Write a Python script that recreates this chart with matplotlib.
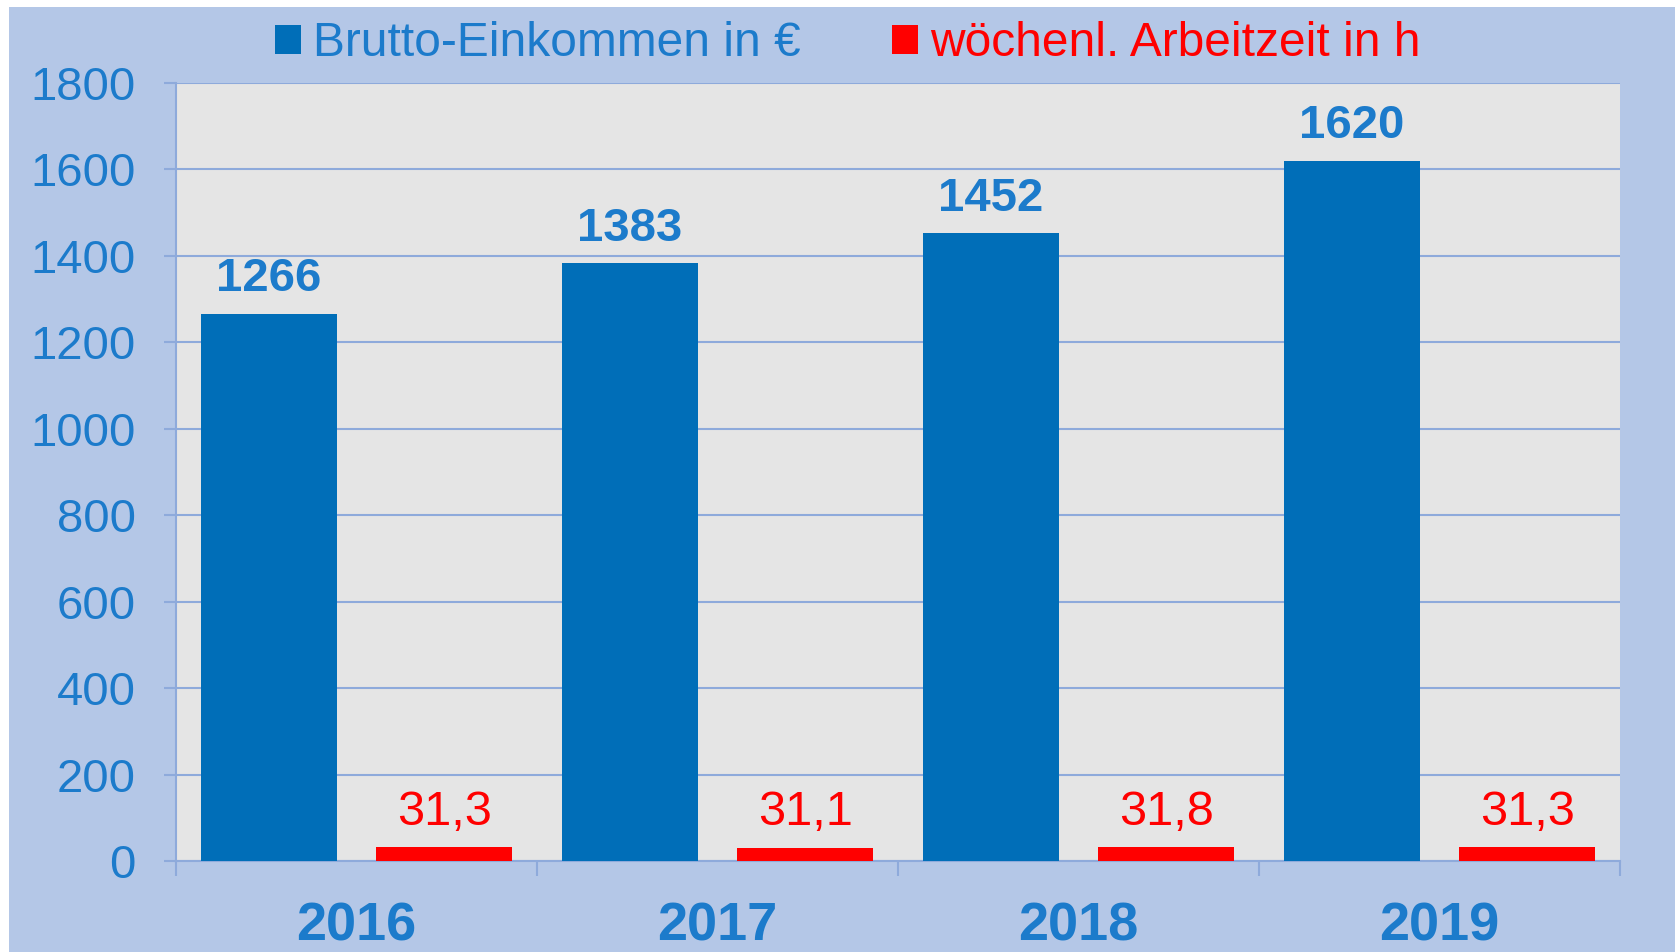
import matplotlib
matplotlib.use('Agg')
import matplotlib.pyplot as plt
from matplotlib.patches import Rectangle, Patch
import numpy as np

# Data
years = ['2016', '2017', '2018', '2019']
einkommen = [1266, 1383, 1452, 1620]
arbeitszeit = [31.3, 31.1, 31.8, 31.3]
arbeitszeit_labels = ['31,3', '31,1', '31,8', '31,3']
y_ticks = [0, 200, 400, 600, 800, 1000, 1200, 1400, 1600, 1800]

BAR_BLUE = '#006EB8'
TEXT_BLUE = '#1C7BCB'
RED = '#FF0000'
BG = '#B4C7E7'
PLOT_BG = '#E5E5E5'
GRID = '#8EAADB'

plt.rcParams['font.family'] = ['Liberation Sans', 'DejaVu Sans']

fig = plt.figure(figsize=(16.75, 9.52), dpi=100, facecolor='white')
# light blue chart area with a thin white margin on top/left
fig.patches.append(Rectangle((9 / 1675, 0), 1, 1 - 7 / 952, transform=fig.transFigure,
                             facecolor=BG, edgecolor='none', zorder=-10))

ax = fig.add_axes([176 / 1675, 1 - 861 / 952, (1620 - 176) / 1675, (861 - 83) / 952])
ax.set_facecolor(PLOT_BG)

x = np.arange(len(years))
width = 0.376
offset = 0.243
b1 = ax.bar(x - offset, einkommen, width, color=BAR_BLUE, zorder=3,
            label='Brutto-Einkommen in €')
b2 = ax.bar(x + offset, arbeitszeit, width, color=RED, zorder=3,
            label='wöchenl. Arbeitzeit in h')

ax.bar_label(b1, labels=[str(v) for v in einkommen], padding=9,
             color=TEXT_BLUE, fontsize=34, fontweight='bold')
ax.bar_label(b2, labels=arbeitszeit_labels, padding=9, color=RED, fontsize=35)

ax.set_xlim(-0.5, len(years) - 0.5)
ax.set_ylim(0, 1800)
ax.set_yticks(y_ticks)
ax.yaxis.grid(True, color=GRID, linewidth=1.5, zorder=0)
ax.set_axisbelow(True)

ax.set_xticks(x)
ax.set_xticklabels(years, fontsize=39, fontweight='bold', color=TEXT_BLUE)
ax.set_xticks(np.arange(-0.5, len(years)), minor=True)
ax.tick_params(axis='x', which='major', length=0, pad=29)
ax.tick_params(axis='x', which='minor', length=11, width=1.5, color=GRID)
ax.tick_params(axis='y', length=9, width=1.5, color=GRID, pad=20,
               labelsize=34, labelcolor=TEXT_BLUE)

for side in ['top', 'right']:
    ax.spines[side].set_visible(False)
for side in ['left', 'bottom']:
    ax.spines[side].set_color(GRID)
    ax.spines[side].set_linewidth(1.5)

handles = [Patch(facecolor=BAR_BLUE), Patch(facecolor=RED)]
leg = fig.legend(handles, ['Brutto-Einkommen in €', 'wöchenl. Arbeitzeit in h'],
                 loc='center', bbox_to_anchor=(0.506, 1 - 44 / 952), ncol=2,
                 frameon=False, fontsize=34.5, handlelength=0.55, handleheight=0.55,
                 handletextpad=0.25, columnspacing=1.9, borderaxespad=0)
for t, c in zip(leg.get_texts(), [TEXT_BLUE, RED]):
    t.set_color(c)

fig.savefig('out.png', dpi=100, facecolor=fig.get_facecolor())
